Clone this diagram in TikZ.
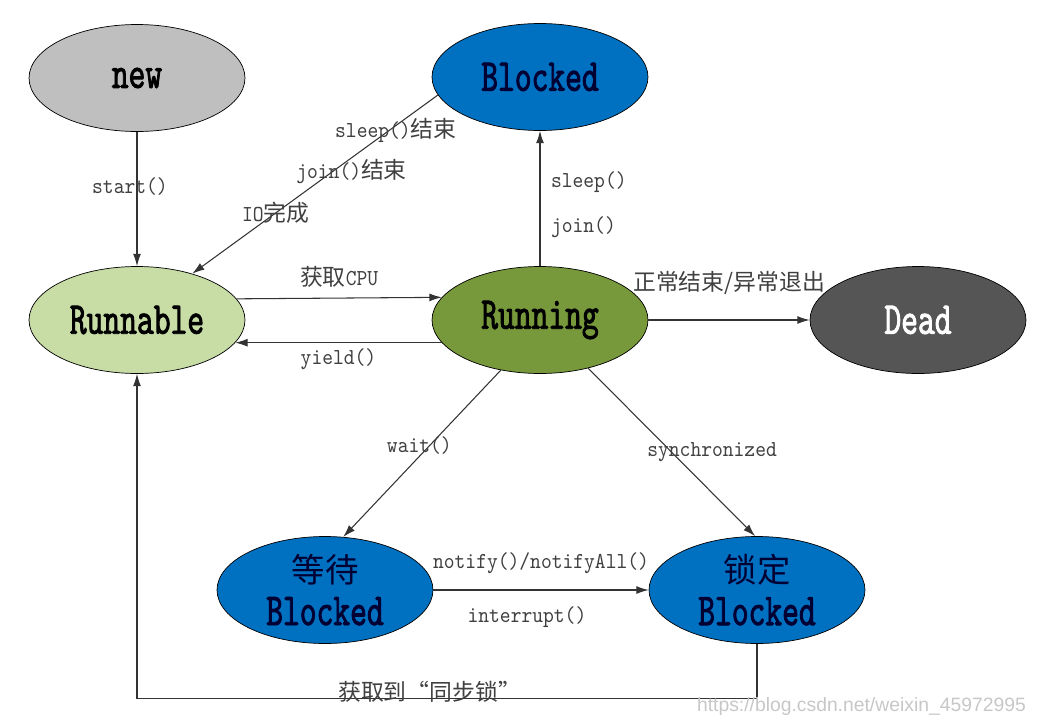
\documentclass[tikz,border=0pt]{standalone}
\usepackage{fontspec}
\usetikzlibrary{shapes.geometric, arrows.meta}
\newfontfamily\cjk{Noto Sans CJK SC}
\newfontfamily\etiq[Extension=.otf, FakeStretch=0.9]{lmmono10-regular}
\newfontfamily\etatfont[Extension=.otf, FakeStretch=0.7, FakeBold=1.8]{lmmono10-regular}
\newfontfamily\marque{Liberation Sans}
\newcommand{\zh}[1]{{\cjk #1}}
\definecolor{gris}{HTML}{BFBFBF}
\definecolor{bleu}{HTML}{0070C0}
\definecolor{vertclair}{HTML}{C8DCA6}
\definecolor{vert}{HTML}{77983B}
\definecolor{grisfonce}{HTML}{555555}

\begin{document}
\begin{tikzpicture}[x=0.02cm, y=-0.02cm]
	\tikzset{etat/.style={ellipse, draw=black, fill=#1, minimum width=4.32cm, minimum height=2.14cm, inner sep=0pt, align=center, font=\etatfont\fontsize{26}{30}\selectfont},
	fleche/.style={draw=black!80, line width=0.6pt, -{Latex[length=7pt, width=4.5pt]}},
	lab/.style={font=\etiq\fontsize{13}{15}\selectfont, text=black!75, inner sep=1pt}};

	\useasboundingbox (0,0) rectangle (1038,724);

	\foreach \name/\x/\y/\coul/\txt/\tc in {new/137/78/gris/new/black, blk/540/77/bleu/Blocked/black!80!blue, rnb/137/320/vertclair/Runnable/black, run/540/320/vert/Running/black, dead/918/320/grisfonce/Dead/white}{
		\node[etat=\coul, text=\tc] (\name) at (\x, \y) {\txt};
	}
	\node[etat=bleu, text=black!80!blue] (att) at (325, 590) {{\cjk\fontsize{19}{22}\selectfont 等待}\\[-6pt] Blocked};
	\node[etat=bleu, text=black!80!blue] (ver) at (757, 590) {{\cjk\fontsize{19}{22}\selectfont 锁定}\\[-6pt] Blocked};

	\draw[fleche] (new) -- node[lab, pos=0.41, xshift=-4pt] {start()} (rnb);
	\draw[fleche] (blk.190) -- node[lab, pos=0.2, xshift=4pt] {sleep()\zh{结束}}
		node[lab, pos=0.43, xshift=11pt] {join()\zh{结束}}
		node[lab, pos=0.66] {IO\zh{完成}} (rnb.40);
	\draw[fleche] (rnb.12.5) -- node[lab, above=5pt] {\zh{获取}CPU} (run.167.5);
	\draw[fleche] (run.193) -- node[lab, below=2pt] {yield()} (rnb.-13);
	\draw[fleche] (run) -- node[lab, pos=0.62, right=5pt] {sleep()}
		node[lab, pos=0.29, right=5pt] {join()} (blk);
	\draw[fleche] (run) -- node[lab, above=13pt] {\zh{正常结束/异常退出}} (dead);
	\draw[fleche] (run.232) -- node[lab, pos=0.45, xshift=-6pt] {wait()} (att.71);
	\draw[fleche] (run.-45) -- node[lab, pos=0.5, xshift=23pt] {synchronized} (ver.92);
	\draw[fleche] (att) -- node[lab, above=8pt] {notify()/notifyAll()}
		node[lab, below=8pt, xshift=-8pt] {interrupt()} (ver);
	\draw[fleche] (ver.south) -- ++(0, 55) -| node[lab, pos=0.264, yshift=4pt] {\zh{获取到“同步锁”}} (rnb.south);

	\node[font=\marque\fontsize{11}{13}\selectfont, text=black!22, anchor=east] (wm) at (1032, 706) {https://blog.csdn.net/weixin\_45972995};
\end{tikzpicture}
\end{document}
